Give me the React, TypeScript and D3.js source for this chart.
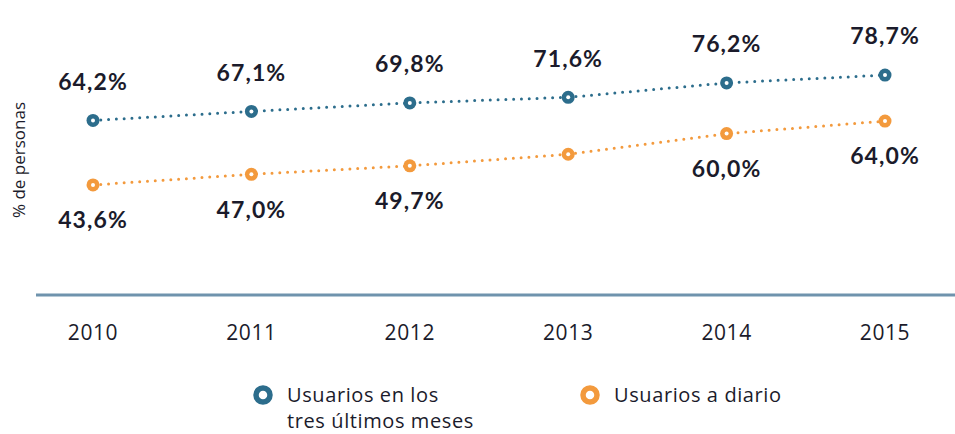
import React from "react";
import * as d3 from "d3";

const years = ["2010", "2011", "2012", "2013", "2014", "2015"];
const trimestre = [64.2, 67.1, 69.8, 71.6, 76.2, 78.7];
const trimestreLabels = ["64,2%", "67,1%", "69,8%", "71,6%", "76,2%", "78,7%"];
const diario = [43.6, 47.0, 49.7, 53.4, 60.0, 64.0];
const diarioLabels = ["43,6%", "47,0%", "49,7%", "", "60,0%", "64,0%"];
const seriesNames = ["Usuarios en los|tres últimos meses", "Usuarios a diario"];

const W = 955;
const H = 434;
const BLUE = "#2c6d8c";
const ORANGE = "#f39a3d";
const TEXT = "#1b1b2b";

export default function App() {
  const x = d3.scalePoint<string>().domain(years).range([93, 885]);
  const y = d3.scaleLinear().domain([0, 100]).range([321.4, 8.4]);
  const line = d3
    .line<number>()
    .x((_, i) => x(years[i]) as number)
    .y((v) => y(v));

  const series = [
    { values: trimestre, labels: trimestreLabels, color: BLUE, off: -39 },
    { values: diario, labels: diarioLabels, color: ORANGE, off: 35 },
  ];

  return (
    <svg
      width={W}
      height={H}
      style={{ position: "absolute", left: 0, top: 0, background: "#fff" }}
    >
      <text
        transform="translate(25,160) rotate(-90)"
        textAnchor="middle"
        fontFamily="Open Sans"
        fontSize={17}
        fill={TEXT}
      >
        % de personas
      </text>
      <line x1={36} x2={W} y1={295} y2={295} stroke="#6f93ad" strokeWidth={3} />
      {years.map((yr) => (
        <text
          key={yr}
          x={x(yr)}
          y={340}
          textAnchor="middle"
          fontFamily="Open Sans"
          fontSize={21}
          letterSpacing={0.6}
          fill={TEXT}
        >
          {yr}
        </text>
      ))}
      {series.map((s, si) => (
        <g key={si}>
          <path
            d={line(s.values) || ""}
            fill="none"
            stroke={s.color}
            strokeWidth={3}
            strokeDasharray="0 7.8"
            strokeLinecap="round"
          />
          {s.values.map((v, i) => (
            <g key={i}>
              <circle cx={x(years[i])} cy={y(v)} r={6.5} fill={s.color} />
              <circle cx={x(years[i])} cy={y(v)} r={2} fill="#fff" />
              {s.labels[i] && (
                <text
                  x={x(years[i])}
                  y={y(v) + s.off}
                  dy="0.36em"
                  textAnchor="middle"
                  fontFamily="Lato"
                  fontWeight="bold"
                  fontSize={23}
                  letterSpacing={1.1}
                  fill={TEXT}
                >
                  {s.labels[i]}
                </text>
              )}
            </g>
          ))}
        </g>
      ))}
      {seriesNames.map((name, i) => {
        const lx = i === 0 ? 263 : 590;
        const lines = name.split("|");
        const color = i === 0 ? BLUE : ORANGE;
        return (
          <g key={name}>
            <circle cx={lx} cy={395} r={7} fill="#fff" stroke={color} strokeWidth={5.5} />
            {lines.map((t, j) => (
              <text
                key={j}
                x={lx + 24}
                y={402 + j * 26}
                fontFamily="Open Sans"
                fontSize={20}
                letterSpacing={0.6}
                fill={TEXT}
              >
                {t}
              </text>
            ))}
          </g>
        );
      })}
    </svg>
  );
}
